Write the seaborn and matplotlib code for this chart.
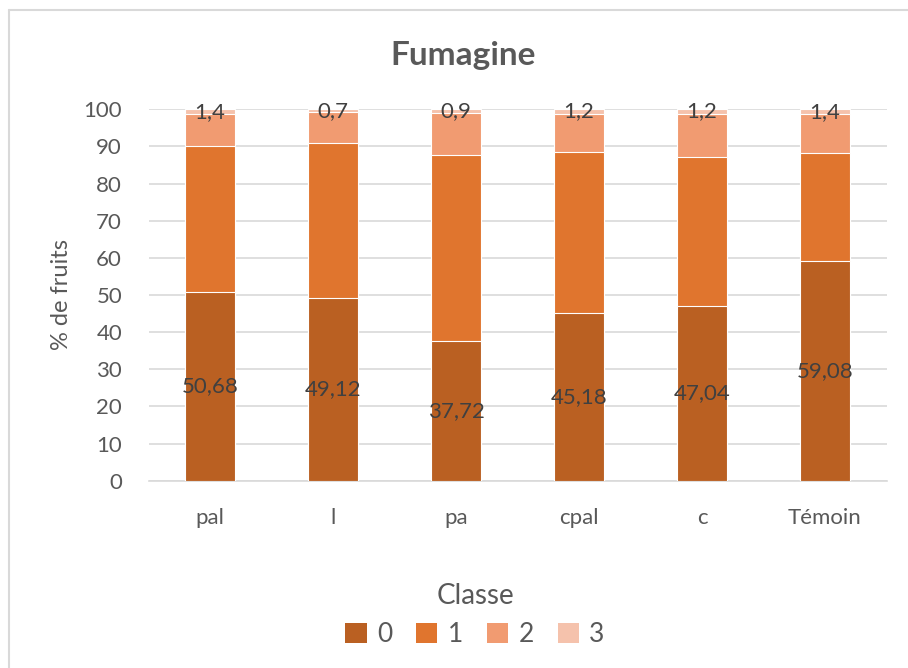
import matplotlib
matplotlib.use("Agg")
import matplotlib.pyplot as plt
import seaborn as sns
import pandas as pd
import numpy as np
from matplotlib.patches import Patch
from matplotlib.lines import Line2D

# data
categories = ["pal", "l", "pa", "cpal", "c", "Témoin"]
classe_0 = [50.68, 49.12, 37.72, 45.18, 47.04, 59.08]
classe_1 = [39.40, 41.80, 50.00, 43.30, 40.20, 29.20]
classe_2 = [8.52, 8.38, 11.38, 10.32, 11.56, 10.32]
classe_3 = [1.4, 0.7, 0.9, 1.2, 1.2, 1.4]
class_names = ["0", "1", "2", "3"]
colors = ["#BA6022", "#E0752E", "#F19B71", "#F5C2AC"]

sns.set_style("white")
plt.rcParams['font.family'] = ['Lato', 'DejaVu Sans']

df = pd.DataFrame({"cat": categories, "0": classe_0, "1": classe_1,
                   "2": classe_2, "3": classe_3})
layers = df[class_names].cumsum(axis=1)

fig = plt.figure(figsize=(9.08, 6.68), dpi=100)
ax = fig.add_axes([148.5 / 908, 1 - 480.7 / 668, (886.5 - 148.5) / 908, (480.7 - 109.3) / 668])

# stacked bars: draw cumulative totals from the top class down
for name, col in reversed(list(zip(class_names, colors))):
    sns.barplot(x=df["cat"], y=layers[name], color=col, width=0.40, saturation=1,
                edgecolor="white", linewidth=0.8, ax=ax, zorder=3)

ax.set_ylim(0, 100)
ax.set_yticks(range(0, 101, 10))
ax.yaxis.grid(True, color="#D9D9D9", linewidth=1.2, zorder=0)
ax.set_axisbelow(True)
for s in ["top", "right", "left"]:
    ax.spines[s].set_visible(False)
ax.spines["bottom"].set_color("#D9D9D9")
ax.spines["bottom"].set_linewidth(1.2)
ax.tick_params(axis="y", length=0, labelsize=16, labelcolor="#595959", pad=19)
ax.tick_params(axis="x", length=0, labelsize=16, labelcolor="#595959", pad=20)
ax.set_xlabel("")
ax.set_ylabel("% de fruits", fontsize=17, color="#595959")
ax.yaxis.set_label_coords(-0.104, 0.5)

# data labels for class 0 and class 3
fmt = lambda v: f"{v:g}".replace(".", ",")
for i in range(len(categories)):
    ax.text(i, classe_0[i] / 2, fmt(classe_0[i]), ha="center", va="center",
            fontsize=16, color="#404040", zorder=5)
    base = layers["2"].iloc[i]
    ax.text(i, base + classe_3[i] / 2, fmt(classe_3[i]), ha="center", va="center",
            fontsize=16, color="#404040", zorder=5)

fig.text(463 / 908, 1 - 55 / 668, "Fumagine", ha="center", va="center",
         fontsize=24, fontweight="bold", color="#595959")

handles = [Patch(facecolor=c, edgecolor="none") for c in colors]
leg = fig.legend(handles, class_names, title="Classe", loc="center",
                 bbox_to_anchor=(475 / 908, 1 - 615 / 668), ncol=4, frameon=False,
                 fontsize=19, title_fontsize=20, handlelength=0.8, handleheight=0.8,
                 handletextpad=0.4, columnspacing=0.9)
for t in leg.get_texts():
    t.set_color("#595959")
leg.get_title().set_color("#595959")

# chart border (cropped on right and bottom)
fig.add_artist(Line2D([8.5 / 908, 8.5 / 908], [0, 1 - 9.5 / 668], color="#D9D9D9", linewidth=1.5))
fig.add_artist(Line2D([8.5 / 908, 1], [1 - 9.5 / 668, 1 - 9.5 / 668], color="#D9D9D9", linewidth=1.5))

fig.savefig("out.png", dpi=100)
